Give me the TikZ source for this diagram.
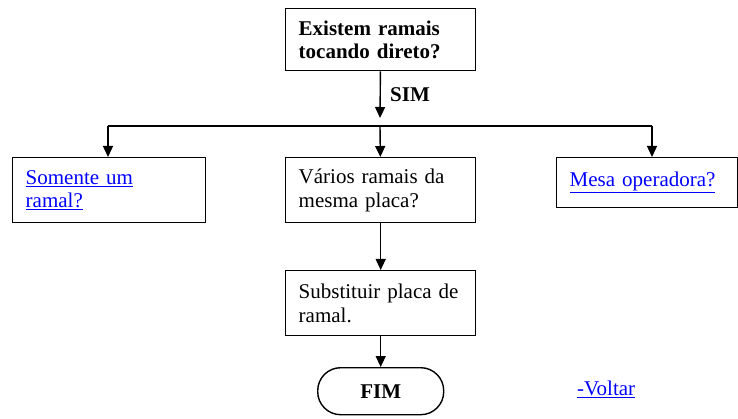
\documentclass[tikz,border=0pt]{standalone}
\usepackage{fontspec}
\setmainfont{Liberation Serif}
\usepackage{tikz}
\usetikzlibrary{arrows.meta,positioning}
\definecolor{linkblue}{RGB}{0,0,255}
\newcommand{\linkto}[1]{\textcolor{linkblue}{\underline{#1}}}

\begin{document}
\begin{tikzpicture}[x=1pt,y=-1pt,
   caixa/.style={draw, line width=1.4pt, rectangle, align=left, anchor=north west,
      inner xsep=13pt, inner ysep=0pt, font=\fontsize{21}{23.5}\selectfont},
   fim/.style={draw, line width=1.4pt, rectangle, rounded corners=23pt, anchor=north west,
      minimum width=126pt, minimum height=47pt, inner sep=0pt,
      font=\fontsize{21}{23.5}\selectfont\bfseries},
   seta/.style={line width=1.4pt, -{Triangle[length=11pt,width=10pt]}},
   linha/.style={line width=1.4pt}]
   \useasboundingbox (0,0) rectangle (738,419);
   \node[caixa, text width=164pt, minimum height=62pt, font=\fontsize{21}{23.5}\selectfont\bfseries] (existem) at (285,8) {Existem ramais\\tocando direto?};
   \node[caixa, text width=167pt, minimum height=65pt] (somente) at (12,157) {\linkto{Somente um}\\\linkto{ramal?}};
   \node[caixa, text width=164pt, minimum height=65pt] (varios) at (285,157) {Vários ramais da\\mesma placa?};
   \node[caixa, text width=155pt, minimum height=50pt] (mesa) at (556,157) {\linkto{Mesa operadora?}};
   \node[caixa, text width=164pt, minimum height=65pt] (subst) at (285,270) {Substituir placa de\\ramal.};
   \node[fim] (fim) at (317,367) {FIM};
   \node[anchor=west, inner sep=0pt, font=\fontsize{21}{23.5}\selectfont\bfseries] (sim) at (390,95) {SIM};
   \node[anchor=west, inner sep=0pt, font=\fontsize{21}{23.5}\selectfont] (voltar) at (577,389) {\linkto{-Voltar}};
   \coordinate (desce) at (380,118);
   \coordinate (esq) at (108,126);
   \coordinate (meio) at (380,126);
   \coordinate (dir) at (652,126);
   \draw[seta] (existem) -- (desce);
   \draw[linha] (esq) -- (dir);
   \draw[seta] (esq) -- (esq |- somente.north);
   \draw[seta] (meio) -- (varios);
   \draw[seta] (dir) -- (dir |- mesa.north);
   \draw[seta] (varios) -- (subst);
   \draw[seta] (subst) -- (fim);
\end{tikzpicture}
\end{document}
